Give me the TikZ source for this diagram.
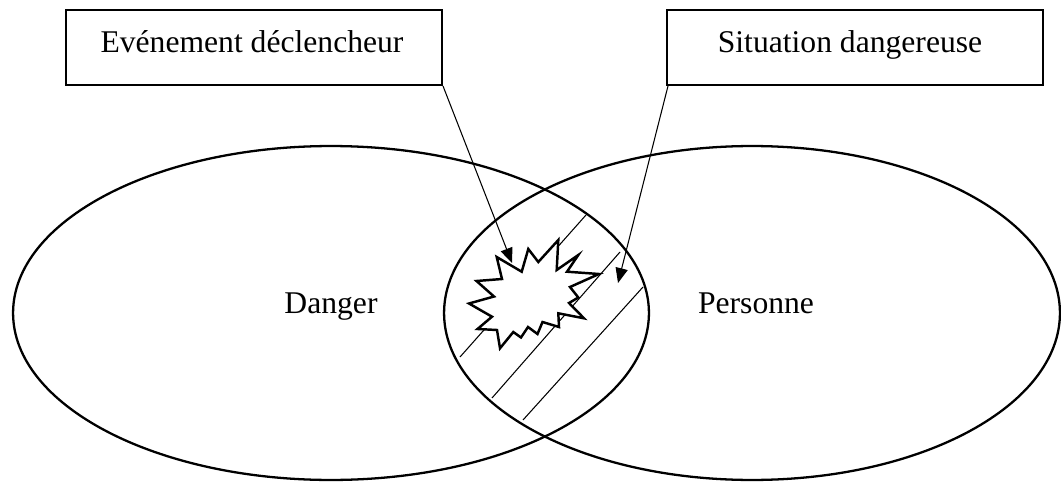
\documentclass[tikz,border=0pt]{standalone}
\usepackage{fontspec}
\setmainfont{Liberation Serif}
\usetikzlibrary{arrows.meta}
\begin{document}
\begin{tikzpicture}[x=0.02cm,y=-0.02cm,
  boxnode/.style={draw,line width=1.2pt,rectangle,inner sep=0pt,minimum width=7.52cm,minimum height=1.5cm},
  lbl/.style={font=\fontsize{18}{20}\selectfont,inner sep=0pt,anchor=base},
  setline/.style={line width=1.3pt},
  hatch/.style={line width=0.6pt},
  pointer/.style={line width=0.6pt,-{Triangle[length=8.5pt,width=7pt]}},
  burst/.style={line width=1.4pt,fill=white,line join=miter}]
\useasboundingbox (0,0) rectangle (1061,483);
% sets
\draw[setline] (331,313) ellipse [x radius=6.36cm, y radius=3.34cm];
\draw[setline] (752,313) ellipse [x radius=6.16cm, y radius=3.34cm];
% hatching
\draw[hatch] (460,357) -- (586,215);
\draw[hatch] (492,398) -- (620,252);
\draw[hatch] (523,420) -- (643,287);
% starburst
\draw[burst] (496.7,257) -- (521.7,271.7) -- (528.3,249) -- (538.3,262) -- (558.3,240)
  -- (556.7,270) -- (578.3,255) -- (567,271.7) -- (599,274) -- (570,287)
  -- (578.3,297.5) -- (569,303) -- (584,318.3) -- (558.3,313.3) -- (559,327)
  -- (542.5,322) -- (537.5,334) -- (528,327) -- (521,337.5) -- (513.3,332)
  -- (500,348.3) -- (497,330) -- (477.5,329) -- (492,316.7) -- (469,303.5)
  -- (494,296.5) -- (476.5,281) -- (502,279) -- cycle;
\coordinate (evtip) at (512,263);
\coordinate (sittip) at (618,283);
% boxes
\node[boxnode] (evt) at (254,47.5) {};
\node[boxnode] (sit) at (855,47.5) {};
\node[lbl] (evtlbl) at (252,53) {Evénement déclencheur};
\node[lbl] (sitlbl) at (850,53) {Situation dangereuse};
% arrows
\draw[pointer] (evt.south east) -- (evtip);
\draw[pointer] ([xshift=0.04cm]sit.south west) -- (sittip);
% labels
\node[lbl] (danger) at (331,313) {Danger};
\node[lbl] (personne) at (756,313) {Personne};
\end{tikzpicture}
\end{document}
